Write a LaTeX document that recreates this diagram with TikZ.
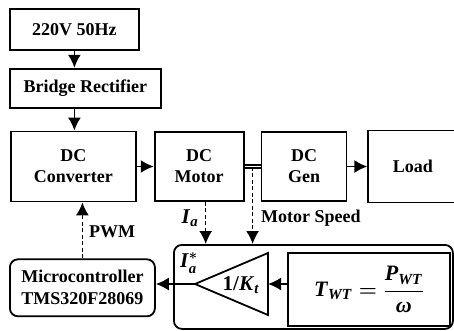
\documentclass[tikz,border=0pt]{standalone}
\usepackage{fontspec}
\setmainfont{Liberation Serif}
\usepackage{amsmath}
\usetikzlibrary{positioning,arrows.meta}
\newcommand{\bolditalic}[1]{\textbf{\textit{#1}}}

\begin{document}
\begin{tikzpicture}[x=1pt,y=-1pt,line width=1.8pt,node distance=17pt,
    font=\fontsize{18}{21}\selectfont\bfseries\boldmath,
    flow/.style={-{Latex[length=13pt,width=13pt]}},
    block/.style={draw,align=center,minimum height=69pt},
    ctrlblock/.style={draw,rounded corners=8pt,align=center},
    sense/.style={flow,dash pattern=on 4pt off 2.5pt,line width=1.5pt},
    mathlbl/.style={font=\fontsize{21}{24}\selectfont\boldmath}]
        \useasboundingbox (0,0) rectangle (454,330);
        \node[draw,minimum width=129pt,minimum height=41pt,anchor=north west] (mains) at (9,8) {220V 50Hz};
        \node[draw,minimum width=151pt,minimum height=39pt,below right=17pt and 0pt of mains.south west] (rectifier) {Bridge Rectifier};
        \node[block,minimum width=125pt,minimum height=70pt,below right=22pt and 1pt of rectifier.south west] (converter) {DC\\Converter};
        \node[block,minimum width=89pt,right=17pt of converter] (motor) {DC\\Motor};
        \node[block,minimum width=85pt,right=16pt of motor] (generator) {DC\\Gen};
        \node[block,minimum width=89pt,minimum height=72pt,right=20pt of generator] (load) {Load};
        \node[ctrlblock,minimum width=145pt,minimum height=57pt,font=\fontsize{18}{22}\selectfont\bfseries,below right=56pt and -1pt of converter.south west] (micro) {Microcontroller\\TMS320F28069};
        \node[ctrlblock,minimum width=279pt,minimum height=84pt,anchor=north west] (control) at (173,244) {};
        \node[draw,mathlbl,minimum width=162pt,minimum height=73pt,anchor=north west,font=\fontsize{22}{25}\selectfont\boldmath] (torque) at (287,252) {$\bolditalic{T}_{\bolditalic{WT}}=\dfrac{\bolditalic{P}_{\bolditalic{WT}}}{\bolditalic{ω}}$};
        % gain block 1/Kt
        \coordinate (tip) at (195,284);
        \coordinate (base) at (268,284);
        \draw (tip) -- (268,253) -- (268,315) -- cycle;
        \node[mathlbl] (gain) at (241,285) {\textbf{1/}$\bolditalic{K}_{\bolditalic{t}}$};
        \coordinate[right=8pt of motor.east] (shaft);
        \coordinate[right=6.5pt of motor.south] (ia);
        \draw[flow] (mains) -- (mains |- rectifier.north);
        \draw[flow] (mains |- rectifier.south) -- (mains |- converter.north);
        \draw[flow] (converter) -- (motor);
        \draw[double,double distance=1.5pt,line width=1.3pt] (motor) -- (generator);
        \draw[flow] (generator) -- (load);
        \draw[sense] (shaft) -- (shaft |- control.north);
        \draw[sense] (ia) -- (ia |- control.north);
        \draw[sense] (micro.north) -- (micro.north |- converter.south);
        \draw[flow] (torque.west |- base) -- (base);
        \draw[flow] (tip) -- (tip -| micro.east);
        % signal labels
        \node[mathlbl] (ialbl) at (190,218) {$\bolditalic{I}_{\bolditalic{a}}$};
        \node[anchor=west] (speedlbl) at (257,218) {Motor Speed};
        \node (pwmlbl) at (112,232) {PWM};
        \node[mathlbl] (iref) at (189,263) {$\bolditalic{I}^{*}_{\bolditalic{a}}$};
    \end{tikzpicture}
\end{document}
